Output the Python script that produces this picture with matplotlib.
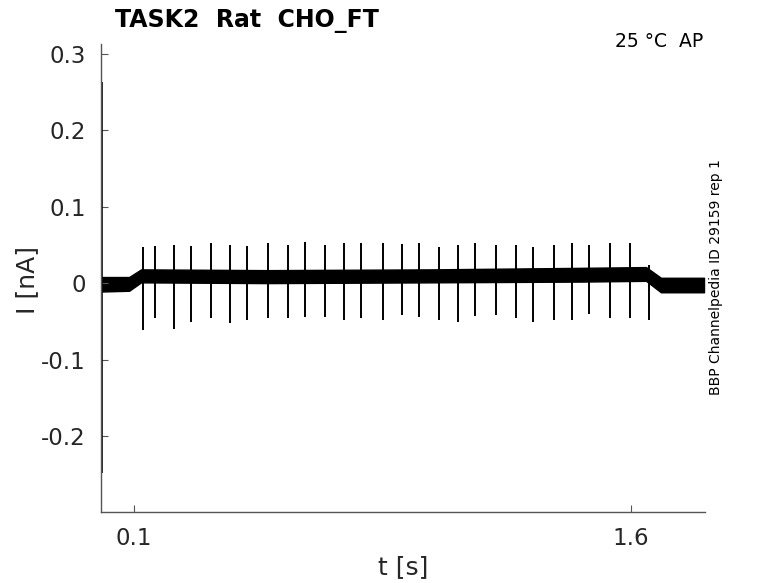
from matplotlib import pyplot as plt
import numpy as np

# spike times [s] and tip values [nA]
spike_t = [0.127, 0.163, 0.220, 0.272, 0.333, 0.390, 0.442, 0.504, 0.564, 0.615,
           0.677, 0.734, 0.785, 0.850, 0.907, 0.960, 1.021, 1.078, 1.130, 1.193,
           1.252, 1.303, 1.366, 1.422, 1.473, 1.537, 1.596, 1.655]
spike_up = [0.047, 0.048, 0.050, 0.048, 0.052, 0.050, 0.048, 0.053, 0.050, 0.054,
            0.050, 0.052, 0.052, 0.052, 0.051, 0.053, 0.047, 0.050, 0.052, 0.050,
            0.050, 0.047, 0.050, 0.052, 0.050, 0.052, 0.053, 0.024]
spike_down = [-0.062, -0.046, -0.060, -0.051, -0.046, -0.052, -0.048, -0.046, -0.046, -0.045,
              -0.044, -0.048, -0.046, -0.048, -0.042, -0.045, -0.048, -0.051, -0.043, -0.042,
              -0.046, -0.051, -0.048, -0.048, -0.040, -0.046, -0.046, -0.048]

# noisy baseline band (upper / lower envelope)
band_t = [0.0, 0.085, 0.121, 0.5, 1.0, 1.45, 1.645, 1.69, 1.82]
band_hi = [0.008, 0.008, 0.018, 0.017, 0.018, 0.020, 0.021, 0.007, 0.007]
band_lo = [-0.011, -0.010, 0.001, 0.0, 0.001, 0.002, 0.003, -0.012, -0.012]

# capacitive transient at t=0
trans_t = 0.002
trans_hi = 0.263
trans_lo = -0.249

xticks = [0.1, 1.6]
yticks = [-0.2, -0.1, 0, 0.1, 0.2, 0.3]
ytick_labels = ['-0.2', '-0.1', '0', '0.1', '0.2', '0.3']

fig = plt.figure(figsize=(7.78, 5.83), dpi=100)
ax = fig.add_axes([101/778, 71/583, 604/778, 468/583])

ax.fill_between(band_t, band_lo, band_hi, color='black', lw=1.0)
ax.vlines(spike_t, spike_down, spike_up, color='black', lw=1.4)
ax.vlines([trans_t], [trans_lo], [trans_hi], color='black', lw=1.2)

ax.set_xlim(0, 1.823)
ax.set_ylim(-0.2996, 0.313)
ax.set_xticks(xticks)
ax.set_xticklabels(['0.1', '1.6'])
ax.set_yticks(yticks)
ax.set_yticklabels(ytick_labels)

for s in ['top', 'right']:
    ax.spines[s].set_visible(False)
for s in ['left', 'bottom']:
    ax.spines[s].set_color('#555555')
    ax.spines[s].set_linewidth(1.0)
ax.tick_params(direction='in', length=5, color='#555555', labelcolor='#262626',
               labelsize=16.5)
ax.tick_params(axis='y', pad=11)
ax.tick_params(axis='x', pad=11)

fig.text(403/778, 1 - 567/583, 't [s]', ha='center', va='center', fontsize=18, color='#262626')
fig.text(27/778, 1 - 280/583, 'I [nA]', ha='center', va='center', fontsize=18,
         color='#262626', rotation=90)

fig.text(115/778, 1 - 27/583, 'TASK2  Rat  CHO_FT', ha='left', va='baseline',
         fontsize=17, fontweight='bold')
fig.text(703/778, 1 - 47/583, '25 °C  AP', ha='right', va='baseline', fontsize=13.5)
fig.text(716/778, 1 - 277/583, 'BBP Channelpedia ID 29159 rep 1', ha='center', va='center',
         fontsize=10, rotation=90)

fig.savefig('out.png', dpi=100)
